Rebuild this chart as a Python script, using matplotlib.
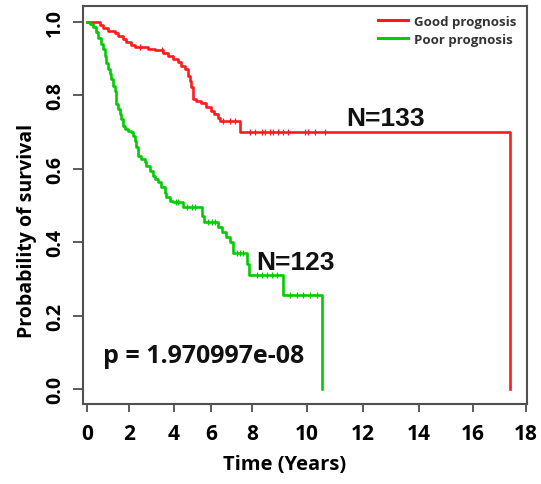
import numpy as np
import matplotlib
matplotlib.use("Agg")
import matplotlib.pyplot as plt

# ---------------- data ----------------
red_time = [0, 0.62, 0.76, 1.00, 1.33, 1.48, 1.71, 1.86, 2.09, 2.27,
            2.84, 3.16, 3.51, 3.73, 3.96, 4.22, 4.38, 4.59, 4.76, 4.86,
            4.92, 5.03, 5.19, 5.46, 5.73, 6.00, 6.17, 6.34, 6.43, 7.41, 17.40]
red_surv = [1.0, 0.992, 0.984, 0.975, 0.970, 0.962, 0.953, 0.944, 0.938, 0.931,
            0.926, 0.922, 0.916, 0.907, 0.898, 0.890, 0.879, 0.871, 0.852, 0.839,
            0.822, 0.789, 0.783, 0.778, 0.769, 0.758, 0.749, 0.738, 0.729, 0.701, 0.0]
red_censor = [2.49, 3.47, 6.59, 6.93, 7.17, 7.90, 8.11, 8.36, 8.47, 8.65, 8.76,
              8.95, 9.13, 9.31, 9.93, 10.04, 10.29, 10.64]

green_time = [0, 0.13, 0.29, 0.44, 0.52, 0.68, 0.76, 0.84, 0.92, 1.00,
              1.08, 1.16, 1.24, 1.32, 1.36, 1.40, 1.48, 1.56, 1.63, 1.71,
              1.79, 1.95, 2.10, 2.18, 2.25, 2.32, 2.40, 2.54, 2.70, 2.77,
              2.92, 3.07, 3.14, 3.29, 3.44, 3.59, 3.66, 3.82, 3.96, 4.49,
              5.50, 5.62, 6.34, 6.54, 6.73, 6.93, 7.09, 7.76, 7.83, 9.11, 10.54]
green_surv = [1.0, 0.994, 0.985, 0.971, 0.957, 0.939, 0.926, 0.907, 0.889, 0.871,
              0.858, 0.844, 0.826, 0.812, 0.790, 0.776, 0.762, 0.749, 0.735, 0.717,
              0.708, 0.703, 0.699, 0.690, 0.676, 0.658, 0.635, 0.626, 0.617, 0.608,
              0.594, 0.581, 0.572, 0.563, 0.549, 0.535, 0.522, 0.513, 0.508, 0.495,
              0.472, 0.455, 0.440, 0.427, 0.413, 0.400, 0.370, 0.340, 0.310, 0.255, 0.0]
green_censor = [4.10, 4.22, 4.70, 4.97, 5.13, 5.84, 6.05, 6.20, 7.27, 7.41, 7.56,
                8.18, 8.36, 8.55, 8.73, 8.91, 9.38, 9.64, 9.85, 10.11, 10.36]

x_tick_values = [0, 2, 4, 6, 8, 10, 12, 14, 16, 18]
y_tick_values = [0.0, 0.2, 0.4, 0.6, 0.8, 1.0]
legend_labels = ["Good prognosis", "Poor prognosis"]
n_good, n_poor = "N=133", "N=123"
p_text = "p = 1.970997e-08"

# ---------------- irregular x axis (as in reference) ----------------
_tick_screen = np.array([87, 129, 174, 211, 252, 307, 363, 419, 473, 526], float)
_tick_vals = np.array(x_tick_values, float)

def _fwd(x):
    x = np.asarray(x, float)
    y = np.interp(x, _tick_vals, _tick_screen)
    sl = (_tick_screen[1] - _tick_screen[0]) / (_tick_vals[1] - _tick_vals[0])
    sr = (_tick_screen[-1] - _tick_screen[-2]) / (_tick_vals[-1] - _tick_vals[-2])
    y = np.where(x < _tick_vals[0], _tick_screen[0] + (x - _tick_vals[0]) * sl, y)
    y = np.where(x > _tick_vals[-1], _tick_screen[-1] + (x - _tick_vals[-1]) * sr, y)
    return y

def _inv(y):
    y = np.asarray(y, float)
    x = np.interp(y, _tick_screen, _tick_vals)
    sl = (_tick_vals[1] - _tick_vals[0]) / (_tick_screen[1] - _tick_screen[0])
    sr = (_tick_vals[-1] - _tick_vals[-2]) / (_tick_screen[-1] - _tick_screen[-2])
    x = np.where(y < _tick_screen[0], _tick_vals[0] + (y - _tick_screen[0]) * sl, x)
    x = np.where(y > _tick_screen[-1], _tick_vals[-1] + (y - _tick_screen[-1]) * sr, x)
    return x

def surv_at(times, st, ss):
    idx = np.searchsorted(st, times, side="right") - 1
    return np.asarray(ss)[idx]

# ---------------- figure ----------------
RED = "#FF1A1A"
GREEN = "#00CC00"
FONT = "Open Sans"

fig = plt.figure(figsize=(5.41, 4.85), dpi=100)
ax = fig.add_axes([83 / 541, 1 - 405 / 485, 444 / 541, 398 / 485])
ax.set_xscale("function", functions=(_fwd, _inv))

ax.step(red_time, red_surv, where="post", color=RED, lw=1.9, label=legend_labels[0])
ax.step(green_time, green_surv, where="post", color=GREEN, lw=1.9, label=legend_labels[1])
ax.plot(red_censor, surv_at(red_censor, red_time, red_surv), ls="none",
        marker="|", ms=5, mew=0.9, color=RED)
ax.plot(green_censor, surv_at(green_censor, green_time, green_surv), ls="none",
        marker="|", ms=5, mew=0.9, color=GREEN)

ax.set_xlim(_inv(83), _inv(527))
ax.set_ylim(-0.041, 1.043)

ax.set_xticks(x_tick_values)
ax.set_xticklabels([str(v) for v in x_tick_values], fontfamily=FONT,
                   fontweight="bold", fontsize=15)
ax.set_yticks(y_tick_values)
ax.set_yticklabels([f"{v:.1f}" for v in y_tick_values], fontfamily=FONT,
                   fontweight="bold", fontsize=14, rotation=90, va="center")
ax.xaxis.set_minor_locator(matplotlib.ticker.NullLocator())
ax.tick_params(axis="x", length=6, width=1.2, color="#404040", pad=8)
ax.tick_params(axis="y", length=7, width=1.2, color="#404040", pad=6)

for sp in ax.spines.values():
    sp.set_color("#505050")
    sp.set_linewidth(1.5)

ax.set_xlabel("Time (Years)", fontfamily=FONT, fontweight="bold", fontsize=14.5)
ax.xaxis.set_label_coords((285 - 83) / 444, (405 - 455) / 398)
ax.set_ylabel("Probability of survival", fontfamily=FONT, fontweight="bold", fontsize=14)
ax.yaxis.set_label_coords((37 - 83) / 444, (405 - 231) / 398)

leg = ax.legend(loc="upper right", bbox_to_anchor=((516 - 83) / 444, (405 - 16) / 398),
                frameon=False, borderpad=0, borderaxespad=0, handlelength=2.3,
                handletextpad=0.4, labelspacing=0.35,
                prop={"family": FONT, "weight": "bold", "size": 9.5})
for t in leg.get_texts():
    t.set_color("#333333")
for l in leg.get_lines():
    l.set_linewidth(2.2)

ax.text(12.82, 0.738, n_good, ha="center", va="center", fontfamily="Liberation Sans",
        fontweight="bold", fontsize=19, color="#111111")
ax.text(9.6, 0.346, n_poor, ha="center", va="center", fontfamily="Liberation Sans",
        fontweight="bold", fontsize=19, color="#111111")
ax.text(5.6, 0.09, p_text, ha="center", va="center", fontfamily=FONT,
        fontweight="bold", fontsize=18, color="#111111")

fig.savefig("out.png", dpi=100)
